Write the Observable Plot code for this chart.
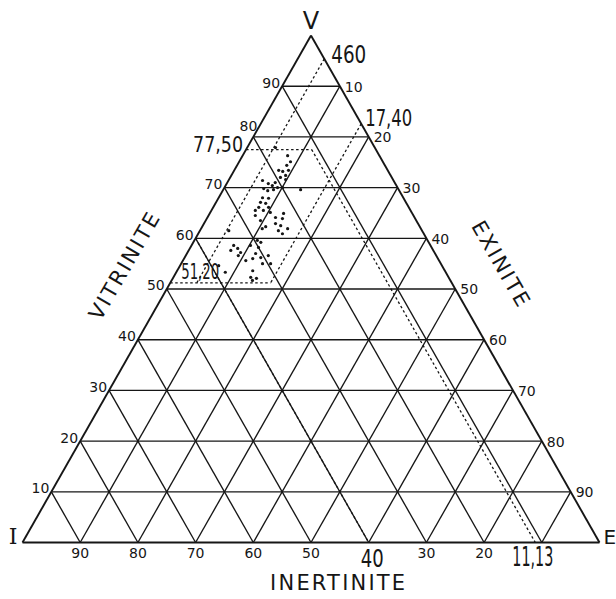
<!DOCTYPE html>
<html><head><meta charset="utf-8">
<script src="https://cdn.jsdelivr.net/npm/d3@7"></script>
<script src="https://cdn.jsdelivr.net/npm/@observablehq/plot@0.6"></script>
<style>body{margin:0;background:#fff}</style>
</head><body><div id="chart"></div>
<script>
// ---- data ----
const gridLevels = [10, 20, 30, 40, 50, 60, 70, 80, 90];
const vitriniteTicks = [10, 20, 30, 40, 50, 60, 70, 80, 90];
const exiniteTicks = [10, 20, 30, 40, 50, 60, 70, 80, 90];
const inertiniteTicks = [90, 80, 70, 60, 50, 30, 20];
const vertexLabels = ["V", "I", "E"];
const axisTitles = ["VITRINITE", "EXINITE", "INERTINITE"];
const exiniteLimits = [4.60, 17.40];
const exiniteLimitLabels = ["460", "17,40"];
const vitriniteLimits = [77.50, 51.20];
const vitriniteLimitLabels = ["77,50", "51,20"];
const inertiniteLimits = [40, 11.13];
const inertiniteLimitLabels = ["40", "11,13"];

const vitrinite = [77.9,76.3,75.1,74.4,73.4,73.2,73.4,72.4,72.0,71.6,71.0,70.8,70.4,70.0,69.6,70.0,69.6,69.4,69.8,68.0,67.9,67.1,66.9,66.1,66.1,65.5,65.5,65.1,64.9,64.1,64.5,63.9,63.5,62.9,62.5,61.5,61.9,60.9,61.9,62.3,59.6,59.2,58.2,58.6,57.6,58.0,56.6,56.0,56.2,56.6,55.0,55.0,55.6,53.6,53.3,51.7,52.1,61.5,58.6,57.0,52.3,54.6,57.2,71.4];
const exinite   = [4.9,7.8,8.9,8.6,9.4,8.5,7.7,9.4,8.7,9.8,8.3,7.2,8.1,9.2,8.7,10.1,13.4,7.8,6.9,7.6,8.7,7.7,8.7,9.6,7.9,7.6,9.0,10.4,12.8,11.8,8.1,13.1,9.5,12.4,13.5,13.6,15.0,14.6,10.6,11.0,10.9,11.7,11.8,7.3,7.3,8.3,9.1,11.9,13.2,14.3,14.1,15.5,10.9,13.1,8.5,14.0,14.5,5.0,10.2,11.9,13.4,6.7,9.2,5.9];
const inertinite= [17.2,15.9,16.0,17.0,17.2,18.3,18.9,18.2,19.3,18.6,20.7,22.0,21.5,20.8,21.7,19.9,17.0,22.8,23.3,24.4,23.4,25.2,24.4,24.3,26.0,26.9,25.5,24.5,22.3,24.1,27.4,23.0,27.0,24.7,24.0,24.9,23.1,24.5,27.5,26.7,29.5,29.1,30.0,34.1,35.1,33.7,34.3,32.1,30.6,29.1,30.9,29.5,33.5,33.3,38.2,34.3,33.4,33.5,31.2,31.1,34.3,38.7,33.6,22.7];

// ---- ternary projection (V top, I bottom-left, E bottom-right) ----
const X = (v, e) => (e + v / 2) / 100;
const Y = v => v / 100;
const samples = vitrinite.map((v, k) => ({v, e: exinite[k], i: inertinite[k]}));

const gridSegs = [
  ...gridLevels.map(v => ({v1: v, e1: 0, v2: v, e2: 100 - v})),
  ...gridLevels.map(e => ({v1: 0, e1: e, v2: 100 - e, e2: e})),
  ...gridLevels.map(i => ({v1: 0, e1: 100 - i, v2: 100 - i, e2: 0}))
];
const outline = [
  {v1: 100, e1: 0, v2: 0, e2: 0},
  {v1: 0, e1: 0, v2: 0, e2: 100},
  {v1: 0, e1: 100, v2: 100, e2: 0}
];
const [vTop, vBot] = vitriniteLimits;
const [iHi, iLo] = inertiniteLimits;
const limitSegs = [
  ...exiniteLimits.map(e => ({v1: 100 - e, e1: e, v2: vBot, e2: e})),
  {v1: vTop, e1: 0, v2: vTop, e2: 100 - vTop - iLo},
  {v1: vBot, e1: 0, v2: vBot, e2: exiniteLimits[1]},
  {v1: 100 - iHi, e1: 0, v2: 0, e2: 100 - iHi},
  {v1: vTop, e1: 100 - vTop - iLo, v2: 0, e2: 100 - iLo}
];
const seg = {x1: d => X(d.v1, d.e1), y1: d => Y(d.v1), x2: d => X(d.v2, d.e2), y2: d => Y(d.v2)};

const INK = "#161616";
const small = {fontSize: 14, fill: INK, fontFamily: "DejaVu Sans"};
const big = {fontSize: 23, fill: INK, fontFamily: "DejaVu Sans"};
const title = {fontSize: 21, fill: INK, fontFamily: "DejaVu Sans"};
// rendered widths of the hand-lettered condensed numbers
const bigWidths = {"460": 35, "17,40": 47, "77,50": 50, "51,20": 38, "40": 23, "11,13": 41};

const chart = Plot.plot({
  width: 616, height: 599,
  marginLeft: 22, marginRight: 17, marginTop: 35, marginBottom: 57,
  x: {domain: [0, 1], axis: null},
  y: {domain: [0, 1], axis: null},
  style: {background: "#fff"},
  marks: [
    Plot.link(gridSegs, {...seg, stroke: INK, strokeWidth: 1.35}),
    Plot.link(outline, {...seg, stroke: INK, strokeWidth: 1.9}),
    Plot.link(limitSegs, {...seg, stroke: INK, strokeWidth: 1.3, strokeDasharray: "2.5,2.5"}),
    Plot.dot(samples, {x: d => X(d.v, d.e), y: d => Y(d.v), r: 1.6, fill: INK, stroke: null}),
    // tick labels
    Plot.text(vitriniteTicks.filter(v => v !== 80), {x: v => X(v, 0), y: v => Y(v), text: v => String(v), textAnchor: "end", dx: -2, dy: -3, ...small}),
    Plot.text(vitriniteTicks.filter(v => v === 80), {x: v => X(v, 0), y: v => Y(v), text: v => String(v), textAnchor: "end", dx: 4, dy: -10, ...small}),
    Plot.text(exiniteTicks, {x: e => X(100 - e, e), y: e => Y(100 - e), text: e => String(e), textAnchor: "start", dx: 5, dy: 1, ...small}),
    Plot.text(inertiniteTicks, {x: i => X(0, 100 - i), y: 0, text: i => String(i), lineAnchor: "top", dy: 6, ...small}),
    // limit labels
    Plot.text([0], {x: () => X(100 - exiniteLimits[0], exiniteLimits[0]), y: () => Y(100 - exiniteLimits[0]), text: () => exiniteLimitLabels[0], textAnchor: "start", lineAnchor: "bottom", dx: 7, dy: 4, ...big, fontSize: 25}),
    Plot.text([0], {x: () => X(100 - exiniteLimits[1], exiniteLimits[1]), y: () => Y(100 - exiniteLimits[1]), text: () => exiniteLimitLabels[1], textAnchor: "start", lineAnchor: "bottom", dx: 4, dy: 2, ...big}),
    Plot.text([0], {x: () => X(vTop, 0), y: () => Y(vTop), text: () => vitriniteLimitLabels[0], textAnchor: "end", lineAnchor: "bottom", dx: -3, dy: 2, ...big, fontSize: 21}),
    Plot.text([0], {x: () => X(vBot, 0), y: () => Y(vBot), text: () => vitriniteLimitLabels[1], textAnchor: "start", lineAnchor: "bottom", dx: 11, dy: -4, ...big, fontSize: 21}),
    Plot.text([0], {x: () => X(0, 100 - iHi), y: 0, text: () => inertiniteLimitLabels[0], textAnchor: "start", lineAnchor: "bottom", dx: -8, dy: 24, ...big, fontSize: 25}),
    Plot.text([0], {x: () => X(0, 100 - iLo), y: 0, text: () => inertiniteLimitLabels[1], textAnchor: "start", lineAnchor: "bottom", dx: -23, dy: 23, ...big, fontSize: 26}),
    // vertex labels
    Plot.text([0], {x: () => X(100, 0), y: () => Y(100), text: () => vertexLabels[0], lineAnchor: "bottom", dy: -7, fontSize: 24, fill: INK, fontFamily: "DejaVu Sans"}),
    Plot.text([0], {x: () => X(0, 0), y: 0, text: () => vertexLabels[1], lineAnchor: "bottom", textAnchor: "end", dx: -5, dy: 1, fontSize: 22, fill: INK, fontFamily: "DejaVu Serif"}),
    Plot.text([0], {x: () => X(0, 100), y: 0, text: () => vertexLabels[2], lineAnchor: "bottom", textAnchor: "start", dx: 4, dy: 1, fontSize: 20, fill: INK, fontFamily: "DejaVu Sans"}),
    // axis titles
    Plot.text([0], {x: () => X(55, 0), y: () => Y(55), text: () => axisTitles[0], rotate: -60, dx: -56, dy: 2, ...title}),
    Plot.text([0], {x: () => X(55, 45), y: () => Y(55), text: () => axisTitles[1], rotate: 60, dx: 60, dy: 1, ...title}),
    Plot.text([0], {x: () => X(0, 60), y: 0, text: () => axisTitles[2], dx: -30, dy: 41, ...title})
  ]
});
const svg = d3.select(chart);
const sizeOf = el => +(el.getAttribute("font-size") || (el.parentNode && el.parentNode.getAttribute("font-size")) || 0);
svg.selectAll("text").filter(function() { return axisTitles.includes(this.textContent); })
  .attr("letter-spacing", "2.2");
svg.selectAll("text").filter(function() { return (this.textContent in bigWidths) && sizeOf(this) >= 20; })
  .attr("textLength", function() { return bigWidths[this.textContent]; })
  .attr("lengthAdjust", "spacingAndGlyphs");
document.getElementById("chart").appendChild(chart);
</script>
</body></html>
